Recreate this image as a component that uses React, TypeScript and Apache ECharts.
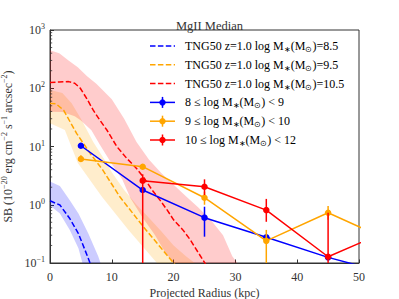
import React, { useEffect, useRef } from 'react';
import * as echarts from 'echarts';

// ---------- observations ----------
const obsX = [5, 15, 25, 35, 45, 55];
const blueObs = [10.3, 1.79, 0.6, 0.276, 0.125, 0.065];
const blueLo = [9.8, 1.62, 0.283, 0.25, 0.115, null];
const blueHi = [10.8, 1.98, 0.925, 0.3, 0.135, null];

const orangeObs = [6.1, 4.5, 1.32, 0.24, 0.73, 0.24];
const orangeLo = [5.4, 4.1, 1.0, 0.01, 0.55, null];
const orangeHi = [7.1, 5.0, 1.67, 0.37, 0.95, null];

const redX = [15, 25, 35, 45, 55];
const redObs = [2.59, 2.04, 0.81, 0.128, 0.37];
const redLo = [0.01, 1.47, 0.51, 0.01, null];
const redHi = [3.33, 2.73, 1.26, 0.73, null];

// ---------- TNG50 medians ----------
const tngBlueX = [0, 1.6, 3.2, 4.6, 6.2, 7.0];
const tngBlue = [1.17, 0.99, 0.58, 0.32, 0.12, 0.07];
const tngOrangeX = [0, 1, 2.2, 4.3, 6.5, 8.5, 11.3, 15.1, 17.8, 20, 21];
const tngOrange = [55, 54, 42, 16.8, 7.6, 4.0, 1.37, 0.42, 0.19, 0.1, 0.075];
const tngRedX = [0, 1.5, 3, 4, 4.9, 6, 7, 8, 9.2, 10.8, 12.4, 14, 15.2, 16.5, 17.8, 19, 20, 21.5, 22.7, 24.8, 26];
const tngRed = [125, 128, 130, 122, 100, 65, 42, 29, 19.2, 10, 6.3, 4.2, 2.9, 1.8, 1.2, 0.8, 0.55, 0.37, 0.25, 0.11, 0.07];

// ---------- TNG50 bands ----------
const bandBlueUpX = [0, 1.6, 3.2, 4.6, 6.2, 7.8, 8.5];
const bandBlueUp = [2.5, 2.1, 1.2, 0.71, 0.32, 0.13, 0.08];
const bandBlueLoX = [0, 1.6, 3.2, 4.6, 5.5];
const bandBlueLo = [0.97, 0.71, 0.37, 0.18, 0.08];

const bandOrangeUpX = [0, 2, 3.5, 5, 7, 9, 10, 12, 14, 16, 18, 20, 22, 24];
const bandOrangeUp = [93, 83, 55, 30, 12, 5.5, 3.6, 1.8, 1.0, 0.6, 0.35, 0.2, 0.13, 0.09];
const bandOrangeLoX = [0, 2.4, 4.5, 8.4, 12.7, 17.3, 18.5];
const bandOrangeLo = [25, 19.2, 5.2, 1.37, 0.37, 0.1, 0.07];

const bandRedUpX = [0, 1.5, 3, 4.5, 6, 7.5, 10, 12, 14, 16, 18, 20, 22, 24, 26, 28, 29.5, 31];
const bandRedUp = [450, 400, 300, 230, 160, 120, 65, 30, 12, 6, 3.5, 2.2, 1.4, 0.9, 0.55, 0.3, 0.13, 0.08];
const bandRedLoX = [0, 2, 4, 5, 6.7, 8, 10, 11.7, 13, 15, 17, 18.5, 20, 21];
const bandRedLo = [39.5, 39, 33, 28, 19, 11, 5, 2.7, 1.3, 0.6, 0.3, 0.16, 0.1, 0.07];

// ---------- ticks / labels ----------
const yDecades = [-1, 0, 1, 2];
const legendLabels = [
  '{a|TNG50 z=1.0 log M}{b|∗}{a|(M}{b|⊙}{a|)=8.5}',
  '{a|TNG50 z=1.0 log M}{b|∗}{a|(M}{b|⊙}{a|)=9.5}',
  '{a|TNG50 z=1.0 log M}{b|∗}{a|(M}{b|⊙}{a|)=10.5}',
  '{a|8 ≤ log M}{b|∗}{a|(M}{b|⊙}{a|) < 9}',
  '{a|9 ≤ log M}{b|∗}{a|(M}{b|⊙}{a|) < 10}',
  '{a|10 ≤ log M}{b|∗}{a|(M}{b|⊙}{a|) < 12}',
];

const BLUE = '#0000ff';
const ORANGE = '#ffa500';
const RED = '#ff0000';
const TXT = '#333333';
const FONT = 'Liberation Serif';

function bandSeries(ux: number[], uv: number[], lx: number[], lv: number[], fill: string) {
  return {
    type: 'custom',
    coordinateSystem: 'cartesian2d',
    clip: true,
    silent: true,
    z: 1,
    data: [[0, 1]],
    renderItem: (_p: any, api: any) => {
      const pts: number[][] = [];
      ux.forEach((x, i) => pts.push(api.coord([x, uv[i]])));
      for (let i = lx.length - 1; i >= 0; i--) pts.push(api.coord([lx[i], lv[i]]));
      return { type: 'polygon', shape: { points: pts }, style: { fill } };
    },
  };
}

function dashedSeries(xs: number[], vs: number[], color: string) {
  return {
    type: 'line',
    data: xs.map((x, i) => [x, vs[i]]),
    symbol: 'none',
    clip: true,
    z: 3,
    lineStyle: { color, width: 1.5, type: [5.5, 2.4] },
  };
}

function obsSeries(xs: number[], vs: number[], color: string, z: number) {
  return {
    type: 'line',
    data: xs.map((x, i) => (x > 50 ? { value: [x, vs[i]], symbol: 'none' } : [x, vs[i]])),
    symbol: 'circle',
    symbolSize: 6.5,
    showAllSymbol: true,
    clip: true,
    z,
    itemStyle: { color },
    lineStyle: { color, width: 1.5 },
  };
}

function errSeries(xs: number[], lo: (number | null)[], hi: (number | null)[], color: string, z: number) {
  const data: number[][] = [];
  xs.forEach((x, i) => {
    if (lo[i] != null && hi[i] != null) data.push([x, lo[i] as number, hi[i] as number]);
  });
  return {
    type: 'custom',
    coordinateSystem: 'cartesian2d',
    clip: true,
    silent: true,
    z,
    encode: { x: 0, y: [1, 2] },
    data,
    renderItem: (_p: any, api: any) => {
      const a = api.coord([api.value(0), api.value(1)]);
      const b = api.coord([api.value(0), api.value(2)]);
      return {
        type: 'line',
        shape: { x1: a[0], y1: a[1], x2: b[0], y2: b[1] },
        style: { stroke: color, lineWidth: 1.5 },
      };
    },
  };
}

function minorTickSeries() {
  const vals: number[][] = [];
  yDecades.forEach((d) => {
    for (let k = 2; k <= 9; k++) vals.push([0, k * Math.pow(10, d)]);
  });
  return {
    type: 'custom',
    coordinateSystem: 'cartesian2d',
    silent: true,
    z: 10,
    data: vals,
    renderItem: (_p: any, api: any) => {
      const p = api.coord([api.value(0), api.value(1)]);
      return {
        type: 'line',
        shape: { x1: p[0], y1: p[1], x2: p[0] + 2.2, y2: p[1] },
        style: { stroke: TXT, lineWidth: 0.8 },
      };
    },
  };
}

const supRich = {
  a: { fontFamily: FONT, fontSize: 12, color: TXT, lineHeight: 15 },
  s: { fontFamily: FONT, fontSize: 8, color: TXT, lineHeight: 8, verticalAlign: 'top' },
};
const legRich = {
  a: { fontFamily: FONT, fontSize: 12, color: TXT, lineHeight: 15 },
  b: { fontFamily: FONT, fontSize: 8, color: TXT, lineHeight: 8, verticalAlign: 'bottom' },
};

function legendGraphics() {
  const rows = [46, 64.8, 83.6, 102.4, 121.2, 140];
  const colors = [BLUE, ORANGE, RED, BLUE, ORANGE, RED];
  const els: any[] = [];
  rows.forEach((y, i) => {
    const c = colors[i];
    if (i < 3) {
      els.push({
        type: 'line',
        shape: { x1: 150, y1: y, x2: 175, y2: y },
        style: { stroke: c, lineWidth: 1.5, lineDash: [5.5, 2.4] },
        z: 20,
      });
    } else {
      els.push({ type: 'line', shape: { x1: 150, y1: y, x2: 175, y2: y }, style: { stroke: c, lineWidth: 1.5 }, z: 20 });
      els.push({ type: 'line', shape: { x1: 162.5, y1: y - 5.5, x2: 162.5, y2: y + 5.5 }, style: { stroke: c, lineWidth: 1.5 }, z: 20 });
      els.push({ type: 'circle', shape: { cx: 162.5, cy: y, r: 3.2 }, style: { fill: c }, z: 20 });
    }
    els.push({
      type: 'text',
      x: 185,
      y,
      z: 20,
      style: { text: legendLabels[i], rich: legRich, verticalAlign: 'middle', align: 'left' },
    });
  });
  return els;
}

export default function App() {
  const ref = useRef<HTMLDivElement>(null);
  useEffect(() => {
    if (!ref.current) return;
    const chart = echarts.init(ref.current, undefined, { renderer: 'svg' });
    chart.setOption({
      animation: false,
      backgroundColor: '#ffffff',
      textStyle: { fontFamily: FONT },
      title: {
        text: 'MgII Median',
        left: 204.5,
        top: 14,
        textAlign: 'center',
        textStyle: { fontFamily: FONT, fontSize: 12.5, fontWeight: 'normal', color: TXT },
      },
      grid: {
        left: 50, right: 40, top: 30, bottom: 36,
        outerBoundsMode: 'none', containLabel: false,
        show: true, borderColor: TXT, borderWidth: 1, backgroundColor: 'transparent',
      },
      xAxis: {
        type: 'value',
        min: 0,
        max: 50,
        interval: 10,
        axisLine: { show: true, onZero: false, lineStyle: { color: TXT, width: 1 } },
        axisTick: { show: true, inside: true, length: 3.5, lineStyle: { color: TXT } },
        axisLabel: { color: TXT, fontFamily: FONT, fontSize: 12, margin: 7.5 },
        splitLine: { show: false },
        name: 'Projected Radius (kpc)',
        nameLocation: 'middle',
        nameGap: 19,
        nameTextStyle: { fontFamily: FONT, fontSize: 12, color: TXT },
      },
      yAxis: {
        type: 'log',
        logBase: 10,
        min: 0.1,
        max: 1000,
        axisLine: { show: true, lineStyle: { color: TXT, width: 1 } },
        axisTick: { show: true, inside: true, length: 4, lineStyle: { color: TXT } },
        axisLabel: {
          margin: 5,
          formatter: (v: number) => {
            const e = Math.round(Math.log10(v));
            return '{a|10}{s|' + (e < 0 ? '−' + -e : '' + e) + '}';
          },
          rich: supRich,
        },
        splitLine: { show: false },
        name: '{a|SB (10}{s|−20}{a| erg cm}{s|−2}{a| s}{s|−1}{a| arcsec}{s|−2}{a|)}',
        nameLocation: 'middle',
        nameRotate: 90,
        nameGap: 31,
        nameTextStyle: { rich: supRich },
      },
      graphic: legendGraphics(),
      series: [
        bandSeries(bandBlueUpX, bandBlueUp, bandBlueLoX, bandBlueLo, 'rgba(0,0,255,0.2)'),
        bandSeries(bandOrangeUpX, bandOrangeUp, bandOrangeLoX, bandOrangeLo, 'rgba(255,165,0,0.2)'),
        bandSeries(bandRedUpX, bandRedUp, bandRedLoX, bandRedLo, 'rgba(255,0,0,0.2)'),
        dashedSeries(tngBlueX, tngBlue, BLUE),
        dashedSeries(tngOrangeX, tngOrange, ORANGE),
        dashedSeries(tngRedX, tngRed, RED),
        obsSeries(obsX, blueObs, BLUE, 4),
        errSeries(obsX, blueLo, blueHi, BLUE, 4),
        obsSeries(obsX, orangeObs, ORANGE, 5),
        errSeries(obsX, orangeLo, orangeHi, ORANGE, 5),
        obsSeries(redX, redObs, RED, 6),
        errSeries(redX, redLo, redHi, RED, 6),
        minorTickSeries(),
      ],
    });
    return () => chart.dispose();
  }, []);
  return <div ref={ref} style={{ width: 399, height: 299, position: 'absolute', left: 0, top: 0 }} />;
}
